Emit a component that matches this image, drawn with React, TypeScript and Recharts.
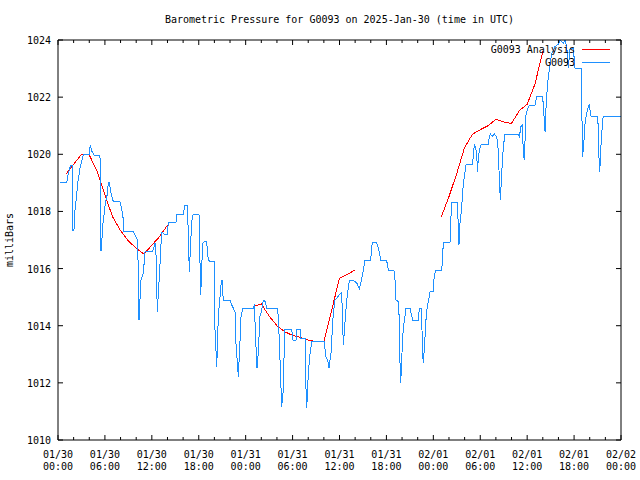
import { LineChart, Line, XAxis, YAxis, Legend } from 'recharts';

// hours since 01/30 00:00 UTC
const stationHours = [
  0.25, 1.1, 1.3, 1.6, 1.8, 1.92, 2.05, 2.17, 2.39, 2.52, 2.81, 3.24, 4.0, 4.13, 4.35, 4.64, 5.37, 5.46, 5.5, 5.58,
  5.71, 5.93, 6.05, 6.3, 6.44, 6.57, 6.79, 7.08, 7.93, 8.13, 8.33, 8.44, 9.63, 9.85, 10.19, 10.36, 10.61, 10.91, 11.13, 12.1,
  12.41, 12.5, 12.7, 12.96, 13.17, 13.3, 13.6, 13.98, 14.11, 15.09, 15.18, 16.03, 16.24, 16.54, 16.67, 16.79, 17.1, 17.3, 18.03, 18.25,
  18.5, 18.71, 19.01, 19.22, 19.44, 19.99, 20.08, 20.3, 20.5, 20.72, 20.85, 20.97, 21.14, 22.0, 22.21, 22.64, 22.76, 23.06, 23.28, 23.4,
  23.62, 25.0, 25.11, 25.28, 25.45, 25.62, 25.83, 26.05, 26.26, 26.38, 26.56, 26.69, 28.05, 28.17, 28.3, 28.48, 28.61, 28.81, 28.94, 29.03,
  29.89, 30.06, 30.44, 30.57, 30.95, 31.01, 31.59, 31.72, 31.81, 32.01, 32.23, 32.45, 34.06, 34.24, 34.49, 34.66, 34.79, 34.91, 35.08, 35.21,
  35.43, 35.64, 36.0, 36.28, 36.49, 36.92, 37.26, 37.77, 38.2, 38.53, 38.8, 39.05, 39.26, 39.99, 40.11, 40.24, 40.67, 40.84, 41.09, 41.27,
  41.95, 42.12, 42.24, 42.97, 43.1, 43.23, 43.52, 43.65, 43.74, 43.83, 44.08, 44.25, 44.51, 45.02, 45.24, 45.37, 46.08, 46.21, 46.51, 46.59,
  46.72, 46.94, 47.06, 47.23, 47.41, 47.58, 48.0, 48.12, 48.3, 49.07, 49.2, 49.28, 50.13, 50.22, 50.35, 51.07, 51.19, 51.28, 51.37, 51.5,
  51.63, 51.76, 51.96, 52.18, 52.98, 53.11, 53.24, 53.42, 53.55, 53.67, 53.75, 53.97, 54.1, 55.03, 55.16, 55.29, 55.54, 55.8, 56.1, 56.31,
  56.44, 56.57, 56.74, 56.95, 57.17, 58.87, 59.0, 59.21, 59.38, 59.51, 59.64, 59.73, 59.81, 60.07, 60.27, 61.0, 61.22, 61.98, 62.06, 62.2,
  62.29, 62.42, 62.58, 62.71, 62.92, 63.14, 63.56, 63.99, 64.2, 64.62, 64.84, 65.06, 65.26, 65.48, 65.9, 66.12, 66.89, 66.98, 67.02, 67.1,
  67.27, 67.4, 67.61, 67.82, 67.95, 68.04, 68.17, 69.02, 69.1, 69.19, 69.28, 69.41, 69.54, 69.67, 69.74, 72.0,
];

const stationPressure = [
  1019.0, 1019.0, 1019.3, 1019.6, 1019.6, 1017.3, 1017.4, 1018.05, 1018.57, 1019.0, 1019.5, 1020.0, 1020.0, 1020.33, 1020.1, 1019.95, 1019.95, 1018.0, 1016.6, 1016.83,
  1017.47, 1017.99, 1018.28, 1018.6, 1019.0, 1019.0, 1018.63, 1018.34, 1018.34, 1018.1, 1017.76, 1017.31, 1017.31, 1017.17, 1017.0, 1014.2, 1015.6, 1015.83, 1016.59, 1016.59,
  1016.88, 1016.88, 1014.49, 1015.72, 1016.83, 1017.29, 1017.2, 1017.2, 1017.62, 1017.62, 1017.91, 1017.91, 1018.22, 1018.22, 1017.2, 1015.89, 1017.64, 1017.91, 1017.91, 1015.08,
  1016.88, 1016.94, 1016.94, 1016.3, 1016.24, 1016.24, 1013.85, 1012.57, 1014.32, 1015.02, 1015.43, 1015.6, 1014.9, 1014.9, 1014.73, 1014.49, 1013.38, 1012.22, 1013.5, 1014.3,
  1014.61, 1014.61, 1014.75, 1013.5, 1012.51, 1013.09, 1014.32, 1014.55, 1014.9, 1014.9, 1014.8, 1014.61, 1014.61, 1014.32, 1013.5, 1012.1, 1011.17, 1011.75, 1013.27, 1013.88,
  1013.88, 1013.5, 1013.5, 1013.88, 1013.88, 1013.55, 1013.55, 1011.75, 1011.11, 1012.33, 1013.03, 1013.44, 1013.44, 1012.92, 1012.8, 1012.51, 1012.8, 1013.03, 1013.85, 1014.43,
  1014.9, 1014.96, 1015.1, 1015.15, 1013.33, 1014.9, 1015.6, 1015.58, 1015.5, 1015.3, 1015.6, 1015.95, 1016.28, 1016.28, 1016.77, 1016.91, 1016.91, 1016.83, 1016.59, 1016.3,
  1016.3, 1016.18, 1015.93, 1015.93, 1015.6, 1014.9, 1014.84, 1014.2, 1012.68, 1011.98, 1013.62, 1014.08, 1014.61, 1014.61, 1014.32, 1014.2, 1014.2, 1014.61, 1014.61, 1013.15,
  1012.68, 1013.62, 1014.2, 1014.7, 1014.9, 1015.19, 1015.19, 1015.78, 1015.92, 1015.92, 1016.5, 1016.92, 1016.92, 1017.6, 1018.32, 1018.32, 1017.5, 1016.83, 1017.47, 1017.82,
  1018.17, 1018.75, 1019.22, 1019.63, 1019.63, 1019.92, 1020.33, 1020.27, 1019.92, 1019.39, 1019.92, 1020.21, 1020.33, 1020.33, 1020.62, 1020.71, 1020.62, 1020.71, 1020.62, 1020.15,
  1019.1, 1018.4, 1019.33, 1020.27, 1020.71, 1020.71, 1020.62, 1020.97, 1021.03, 1020.03, 1019.8, 1020.5, 1021.32, 1021.6, 1021.72, 1021.72, 1022.02, 1022.02, 1021.72, 1021.14,
  1020.79, 1021.67, 1022.37, 1022.72, 1023.12, 1023.53, 1023.77, 1023.85, 1024.0, 1023.88, 1024.0, 1023.77, 1023.01, 1023.7, 1023.71, 1023.01, 1023.01, 1022.25, 1021.0, 1019.92,
  1020.5, 1021.08, 1021.43, 1021.67, 1021.72, 1021.55, 1021.32, 1021.32, 1020.85, 1019.86, 1019.39, 1020.15, 1020.73, 1021.2, 1021.34, 1021.34,
];

// hourly analysis, null breaks the line between runs
const analysisHours = [
  1, 2, 3, 4, 5, 6, 7, 8, 9, 10, 11, 12, 13, 14, 20,
  25, 26, 27, 28, 29, 30, 31, 32, 33, 34, 35, 36, 37, 38, 44,
  49, 50, 51, 52, 53, 54, 55, 56, 57, 58, 59, 60, 61, 62,
];
const analysisPressure = [
  1019.3, 1019.65, 1020.0, 1019.98, 1019.4, 1018.57, 1017.8, 1017.33, 1016.97, 1016.71, 1016.51, 1016.82, 1017.12, 1017.52, null,
  1014.68, 1014.76, 1014.34, 1014.0, 1013.79, 1013.66, 1013.59, 1013.5, 1013.44, 1013.44, 1014.55, 1015.66, 1015.8, 1015.95, null,
  1017.8, 1018.52, 1019.33, 1020.24, 1020.7, 1020.86, 1021.0, 1021.22, 1021.13, 1021.08, 1021.53, 1021.75, 1022.46, 1023.6,
];

const tickHours = [
  0, 2, 4, 6, 8, 10, 12, 14, 16, 18, 20, 22, 24, 26, 28, 30, 32, 34, 36,
  38, 40, 42, 44, 46, 48, 50, 52, 54, 56, 58, 60, 62, 64, 66, 68, 70, 72,
];
const tickDates = ['01/30', '01/30', '01/30', '01/30', '01/31', '01/31', '01/31', '01/31', '02/01', '02/01', '02/01', '02/01', '02/02'];
const tickTimes = ['00:00', '06:00', '12:00', '18:00', '00:00', '06:00', '12:00', '18:00', '00:00', '06:00', '12:00', '18:00', '00:00'];
const pressureTicks = [1010, 1012, 1014, 1016, 1018, 1020, 1022, 1024];

const stationData = stationHours.map((t, i) => ({ t, station: stationPressure[i] }));
const analysisData = analysisHours.map((t, i) => ({ t, analysis: analysisPressure[i] }));

const keyItems = [
  { name: 'G0093 Analysis', color: '#ff0000' },
  { name: 'G0093', color: '#1e90ff' },
];

const FONT = '"DejaVu Sans Mono", monospace';
const txt = { fontFamily: FONT, fontSize: 10, fill: '#000' };

const BottomTick = ({ x, y, payload }: any) => {
  const h = payload.value;
  const major = h % 6 === 0;
  const k = h / 6;
  return (
    <g>
      <line x1={x} y1={y} x2={x} y2={y - (major ? 5 : 3)} stroke="#000" />
      {major && (
        <text x={x} y={y + 18} textAnchor="middle" {...txt}>{tickDates[k]}</text>
      )}
      {major && (
        <text x={x} y={y + 30} textAnchor="middle" {...txt}>{tickTimes[k]}</text>
      )}
    </g>
  );
};

const TopTick = ({ x, y, payload }: any) => {
  const major = payload.value % 6 === 0;
  return <line x1={x} y1={y} x2={x} y2={y + (major ? 5 : 3)} stroke="#000" />;
};

const LeftTick = ({ x, y, payload }: any) => (
  <g>
    <line x1={x} y1={y} x2={x + 5} y2={y} stroke="#000" />
    <text x={x - 7} y={y + 4} textAnchor="end" {...txt}>{payload.value}</text>
  </g>
);

const RightTick = ({ x, y }: any) => <line x1={x} y1={y} x2={x - 5} y2={y} stroke="#000" />;

const renderKey = () => (
  <div style={{ fontFamily: FONT, fontSize: 10, lineHeight: '13px', color: '#000' }}>
    {keyItems.map((k) => (
      <div key={k.name} style={{ display: 'flex', justifyContent: 'flex-end', alignItems: 'center' }}>
        <span style={{ whiteSpace: 'pre' }}>{k.name}</span>
        <span style={{ display: 'inline-block', width: 28, borderTop: `1px solid ${k.color}`, marginLeft: 7 }} />
      </div>
    ))}
  </div>
);

export default function App() {
  return (
    <div style={{ position: 'absolute', left: 0, top: 0, width: 640, height: 480, background: '#fff' }}>
      <div
        style={{
          position: 'absolute', left: 58, top: 13, width: 563, textAlign: 'center',
          fontFamily: FONT, fontSize: 10, lineHeight: '13px', zIndex: 2,
        }}
      >
        Barometric Pressure for G0093 on 2025-Jan-30 (time in UTC)
      </div>
      <div
        style={{
          position: 'absolute', left: -30, top: 234, width: 80, height: 12, lineHeight: '12px',
          textAlign: 'center', fontFamily: FONT, fontSize: 10, transform: 'rotate(-90deg)', zIndex: 2,
        }}
      >
        milliBars
      </div>
      <LineChart width={640} height={480} margin={{ top: 30, right: 9, bottom: 10, left: 8 }}>
        <XAxis
          xAxisId="bottom" dataKey="t" type="number" domain={[0, 72]} allowDataOverflow
          ticks={tickHours} interval={0} tickSize={0} tickMargin={0} tickLine={false}
          tick={<BottomTick />} height={30} axisLine={{ stroke: '#000' }}
        />
        <XAxis
          xAxisId="top" orientation="top" dataKey="t" type="number" domain={[0, 72]} allowDataOverflow
          ticks={tickHours} interval={0} tickSize={0} tickMargin={0} tickLine={false}
          tick={<TopTick />} height={10} axisLine={{ stroke: '#000' }}
        />
        <YAxis
          yAxisId="left" type="number" domain={[1010, 1024]} allowDataOverflow
          ticks={pressureTicks} interval={0} tickSize={0} tickMargin={0} tickLine={false}
          tick={<LeftTick />} width={50} axisLine={{ stroke: '#000' }}
        />
        <YAxis
          yAxisId="right" orientation="right" type="number" domain={[1010, 1024]} allowDataOverflow
          ticks={pressureTicks} interval={0} tickSize={0} tickMargin={0} tickLine={false}
          tick={<RightTick />} width={10} axisLine={{ stroke: '#000' }}
        />
        <Legend
          layout="horizontal" verticalAlign="middle" align="center" content={renderKey}
          wrapperStyle={{ top: 43, right: 30, left: 'auto', bottom: 'auto', width: 'auto' }}
        />
        <Line
          xAxisId="bottom" yAxisId="left" data={analysisData} dataKey="analysis" name="G0093 Analysis"
          type="linear" stroke="#ff0000" strokeWidth={1} dot={false} connectNulls={false}
          shapeRendering="crispEdges" isAnimationActive={false}
        />
        <Line
          xAxisId="bottom" yAxisId="left" data={stationData} dataKey="station" name="G0093"
          type="linear" stroke="#1e90ff" strokeWidth={1} dot={false}
          shapeRendering="crispEdges" isAnimationActive={false}
        />
      </LineChart>
    </div>
  );
}
